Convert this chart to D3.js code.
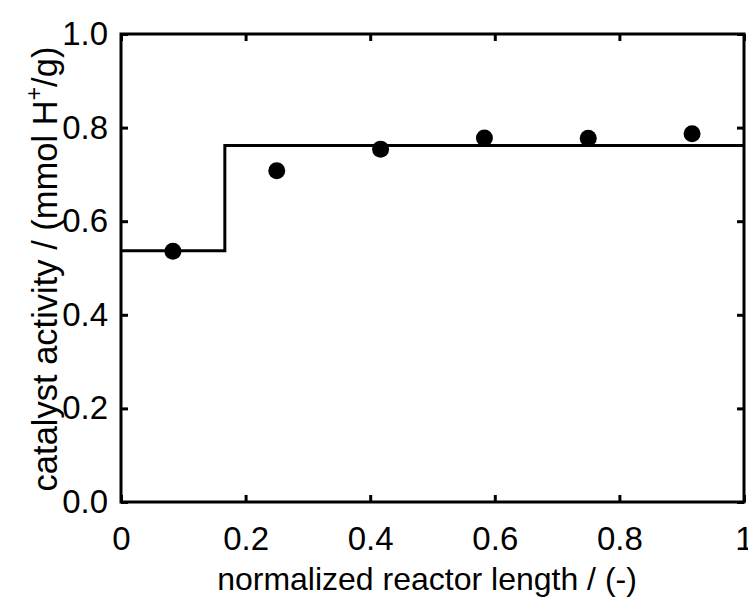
<!DOCTYPE html>
<html>
<head>
<meta charset="utf-8">
<script src="https://cdn.jsdelivr.net/npm/d3@7"></script>
<style>
  html, body { margin: 0; padding: 0; background: #fff; }
  text { font-family: "Liberation Sans", Arial, Helvetica, sans-serif; fill: #000; }
</style>
</head>
<body>
<svg id="chart" width="748" height="610"></svg>
<script>
// Measured catalyst activity along the reactor
const positions = [1/12, 3/12, 5/12, 7/12, 9/12, 11/12];
const activity  = [0.536, 0.708, 0.754, 0.778, 0.777, 0.787];

// Piecewise-constant model profile (segment edges and levels)
const stepEdges  = [0, 1/6, 1];
const stepLevels = [0.537, 0.762];

const xTicks = [0, 0.2, 0.4, 0.6, 0.8, 1];
const yTicks = [0, 0.2, 0.4, 0.6, 0.8, 1.0];

const margin = { left: 121, right: 4, top: 34, bottom: 108 };
const W = 748, H = 610;

const svg = d3.select("#chart");
const x = d3.scaleLinear().domain([0, 1]).range([margin.left, W - margin.right]);
const y = d3.scaleLinear().domain([0, 1]).range([H - margin.bottom, margin.top]);

const stroke = 3;
const fontSize = 33;

// Step profile
const stepPts = [];
stepLevels.forEach((v, i) => {
  stepPts.push([stepEdges[i], v]);
  stepPts.push([stepEdges[i + 1], v]);
});
svg.append("path")
  .datum(stepPts)
  .attr("fill", "none")
  .attr("stroke", "#000")
  .attr("stroke-width", stroke)
  .attr("stroke-linejoin", "miter")
  .attr("d", d3.line().x(d => x(d[0])).y(d => y(d[1])));

// Measured points
svg.selectAll("circle.pt")
  .data(positions.map((p, i) => [p, activity[i]]))
  .join("circle")
  .attr("class", "pt")
  .attr("cx", d => x(d[0]))
  .attr("cy", d => y(d[1]))
  .attr("r", 8.5)
  .attr("fill", "#000");

// Axes with inward ticks on all four sides
const tickLen = 7;
const styleAxis = g => {
  g.selectAll("path.domain").remove();
  g.selectAll(".tick line").attr("stroke", "#000").attr("stroke-width", stroke);
  g.selectAll(".tick text").style("font-size", fontSize + "px")
    .style("font-family", '"Liberation Sans", Arial, sans-serif');
};
const fmtX = d => d === 0 ? "0" : d === 1 ? "1" : d3.format(".1f")(d);

svg.append("g")
  .attr("transform", `translate(0,${y(0)})`)
  .call(d3.axisBottom(x).tickValues(xTicks).tickFormat(fmtX).tickSizeInner(-tickLen).tickSizeOuter(0).tickPadding(25))
  .call(styleAxis);
svg.append("g")
  .attr("transform", `translate(0,${y(1)})`)
  .call(d3.axisTop(x).tickValues(xTicks).tickFormat("").tickSizeInner(-tickLen).tickSizeOuter(0))
  .call(styleAxis);
svg.append("g")
  .attr("transform", `translate(${x(0)},0)`)
  .call(d3.axisLeft(y).tickValues(yTicks).tickFormat(d3.format(".1f")).tickSizeInner(-tickLen).tickSizeOuter(0).tickPadding(13))
  .call(styleAxis);
svg.append("g")
  .attr("transform", `translate(${x(1)},0)`)
  .call(d3.axisRight(y).tickValues(yTicks).tickFormat("").tickSizeInner(-tickLen).tickSizeOuter(0))
  .call(styleAxis);

// Frame
svg.append("rect")
  .attr("x", x(0)).attr("y", y(1))
  .attr("width", x(1) - x(0)).attr("height", y(0) - y(1))
  .attr("fill", "none").attr("stroke", "#000").attr("stroke-width", stroke);

// Axis titles
svg.append("text")
  .attr("x", 427)
  .attr("y", 590)
  .attr("text-anchor", "middle")
  .style("font-size", "32px")
  .text("normalized reactor length / (-)");

const yt = svg.append("text")
  .attr("transform", `translate(57,${269}) rotate(-90)`)
  .attr("text-anchor", "middle")
  .style("font-size", "34.5px");
yt.append("tspan").text("catalyst activity / (mmol H");
yt.append("tspan").attr("dy", -15).style("font-size", "23px").text("+");
yt.append("tspan").attr("dy", 15).text("/g)");
</script>
</body>
</html>
